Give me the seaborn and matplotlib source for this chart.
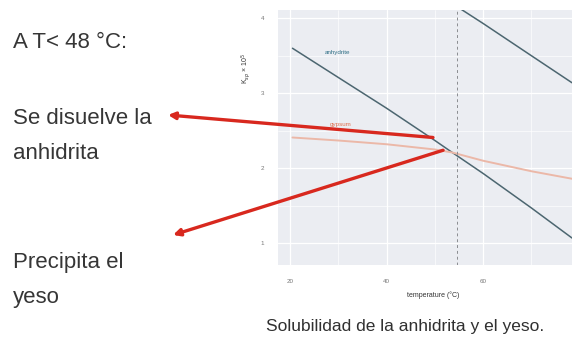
import pandas as pd
import matplotlib.pyplot as plt
import seaborn as sns

# values (K_sp x 10^5 against temperature)
temperature = [20.5, 30, 40, 50, 53.6, 60, 70, 78.4]
anhydrite = [3.60, 3.21, 2.80, 2.37, 2.21, 1.93, 1.47, 1.07]
gypsum = [2.41, 2.37, 2.32, 2.25, 2.21, 2.10, 1.96, 1.86]
upper_temp = [53.5, 60, 70, 78.4]
upper_line = [4.20, 3.93, 3.50, 3.14]

transition_T = 54.5
x_ticks = [20, 40, 60]
y_ticks = [1, 2, 3, 4]

notes = ["A T< 48 °C:", "Se disuelve la\nanhidrita", "Precipita el\nyeso"]
caption = "Solubilidad de la anhidrita y el yeso."

sns.set_theme(style="darkgrid")
plt.rcParams['font.family'] = ['Liberation Sans', 'DejaVu Sans']

fig = plt.figure(figsize=(5.72, 3.39), dpi=100)
ax = fig.add_axes([278 / 572, 1 - 265 / 339, 294 / 572, 255 / 339])
ax.set_facecolor('#ebedf2')

df = pd.DataFrame({'temperature': temperature, 'anhydrite': anhydrite, 'gypsum': gypsum})
sns.lineplot(data=df, x='temperature', y='anhydrite', ax=ax, color='#4c6670', lw=1.1)
sns.lineplot(data=df, x='temperature', y='gypsum', ax=ax, color='#ebb8a8', lw=1.4)
sns.lineplot(x=upper_temp, y=upper_line, ax=ax, color='#4c6670', lw=1.1)
ax.axvline(transition_T, color='#8a8c90', lw=0.7, ls=(0, (3, 3)))

ax.set_xlim(17.5, 78.4)
ax.set_ylim(0.71, 4.11)
ax.set_xticks(x_ticks)
ax.set_yticks(y_ticks)
ax.set_xticks([30, 50, 70], minor=True)
ax.set_yticks([1.5, 2.5, 3.5], minor=True)
ax.grid(which='major', color='white', lw=0.9)
ax.grid(which='minor', color='white', lw=0.45)
ax.tick_params(axis='both', which='major', labelsize=4.5, labelcolor='#777777', pad=4)
ax.tick_params(which='minor', length=0)
for side in ax.spines.values():
    side.set_visible(False)

ax.set_xlabel('temperature (°C)', fontsize=5, color='#333333')
ax.set_ylabel('K$_{sp}$ × 10$^5$', fontsize=5, color='#333333')
ax.xaxis.set_label_coords(0.527, -0.105)
ax.yaxis.set_label_coords(-0.085, 0.77)

ax.text(29.9, 3.55, 'anhydrite', fontsize=4.5, color='#2f6f86', ha='center', va='center')
ax.text(30.4, 2.59, 'gypsum', fontsize=4.5, color='#e07050', ha='center', va='center')

# red arrows from the crossing point out to the notes on the left
arrow = dict(arrowstyle='-|>', color='#d8281e', lw=2.4, mutation_scale=10, shrinkA=0, shrinkB=0)
ax.annotate('', xy=(168 / 572, 1 - 115 / 339), xycoords='figure fraction',
            xytext=(49.6, 2.41), textcoords='data', arrowprops=arrow, annotation_clip=False)
ax.annotate('', xy=(173 / 572, 1 - 235 / 339), xycoords='figure fraction',
            xytext=(51.7, 2.24), textcoords='data', arrowprops=arrow, annotation_clip=False)

fig.text(13 / 572, 1 - 42 / 339, notes[0], fontsize=16, color='#363636', va='center')
fig.text(13 / 572, 1 - 136 / 339, notes[1], fontsize=16, color='#363636', va='center',
         linespacing=1.85)
fig.text(13 / 572, 1 - 280 / 339, notes[2], fontsize=16, color='#363636', va='center',
         linespacing=1.85)
fig.text(405 / 572, 1 - 327 / 339, caption, fontsize=12.5, color='#303030',
         ha='center', va='center')

fig.savefig('out.png', dpi=100)
